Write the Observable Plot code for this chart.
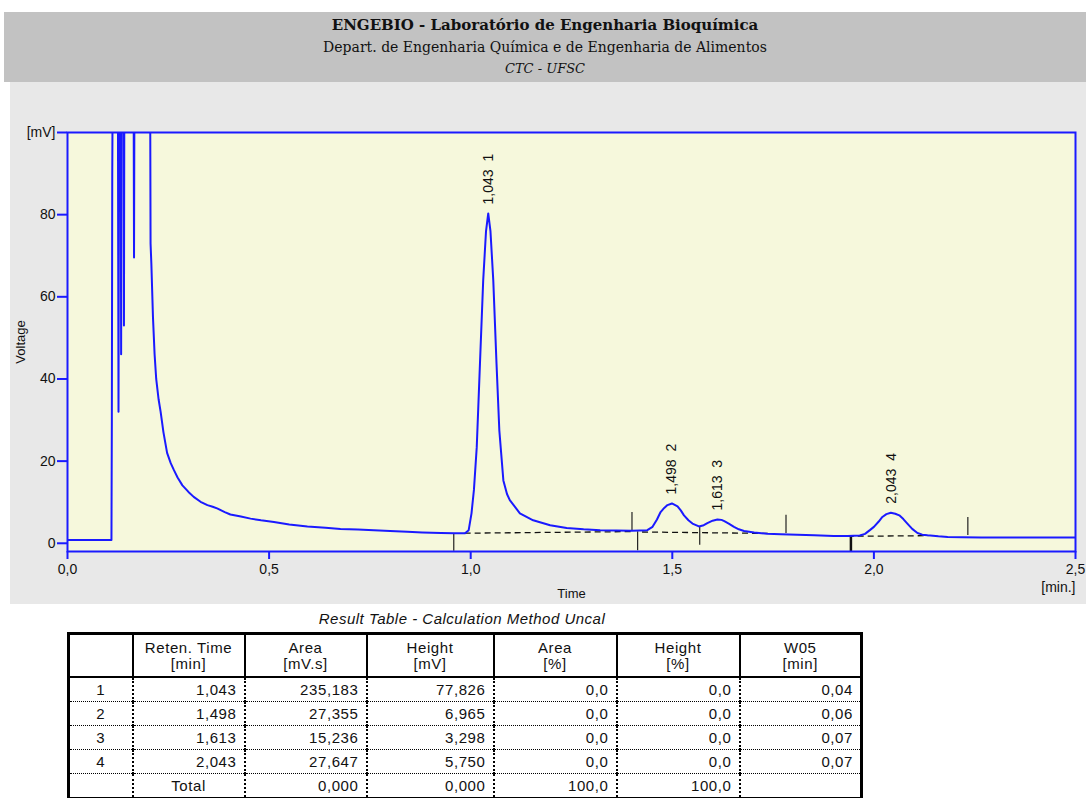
<!DOCTYPE html>
<html><head><meta charset="utf-8">
<script src="https://cdn.jsdelivr.net/npm/d3@7"></script>
<script src="https://cdn.jsdelivr.net/npm/@observablehq/plot@0.6"></script>
<style>
body{margin:0;width:1086px;height:798px;overflow:hidden;background:#fff;position:relative;font-family:"Liberation Sans",Arial,sans-serif;color:#111}
#hdr{position:absolute;left:4px;top:12px;width:1082px;height:70px;background:#c2c2c2;text-align:center;font-family:"DejaVu Serif",serif;color:#111;padding-top:2px;box-sizing:border-box}
#hdr div{line-height:22px;white-space:nowrap}
#h1{font-weight:bold;font-size:15px}
#h2{font-size:14px}
#h3{font-size:13px;font-style:italic}
#bg{position:absolute;left:10px;top:82px;width:1076px;height:522px;background:#e8e8e8}
#chart{position:absolute;left:0;top:82px}
#ttl{position:absolute;top:610px;left:0;width:924px;text-align:center;font-style:italic;font-size:15px;letter-spacing:0.5px;line-height:18px}
#tbl{position:absolute;left:67px;top:632px;border-collapse:collapse;border:3px solid #000;font-size:15px;table-layout:fixed;width:793px;letter-spacing:0.6px}
#tbl th{font-weight:normal;border:2px solid #000;height:41px;line-height:16px;padding:0;vertical-align:middle;text-align:center}
#tbl td{border-left:2px dotted #000;border-right:2px dotted #000;border-bottom:1px dotted #000;height:23px;line-height:16px;padding:0 7px 0 0;text-align:right}
#tbl td.c{text-align:center;padding:0}
</style></head>
<body>
<div id="hdr"><div id="h1"></div><div id="h2"></div><div id="h3"></div></div>
<div id="bg"></div>
<div id="chart"></div>
<div id="ttl"></div>
<table id="tbl"></table>
<script>
// ---- header texts
const headerLines = ["ENGEBIO - Laboratório de Engenharia Bioquímica", "Depart. de Engenharia Química e de Engenharia de Alimentos", "CTC - UFSC"];
const tableTitle = "Result Table - Calculation Method Uncal";

// ---- chromatogram trace (time in min, voltage in mV; >100 is off scale)
const traceT = [0,0.109,0.110,0.111,0.112,0.125,0.1265,0.128,0.132,0.133,0.134,0.139,0.140,0.141,0.164,0.165,0.166,0.205,
0.206,0.208,0.212,0.216,0.220,0.226,0.231,0.238,0.247,0.256,0.264,0.273,0.285,0.300,0.313,0.330,0.347,0.360,0.371,0.390,0.404,0.430,0.454,0.480,0.512,0.550,0.595,0.640,0.677,0.720,0.760,0.800,0.843,0.880,0.926,0.960,
0.986,0.995,1.002,1.008,1.015,1.023,1.031,1.038,1.0435,1.049,1.056,1.064,1.071,1.081,1.090,1.097,1.122,1.155,1.197,1.238,1.280,1.321,1.360,1.400,
1.438,1.451,1.462,1.471,1.480,1.488,1.499,1.513,1.521,1.529,1.540,1.550,1.566,1.578,1.587,1.600,1.612,1.622,1.629,1.640,1.653,1.665,1.678,1.703,1.735,1.769,1.810,1.852,1.900,1.935,
1.965,1.978,1.990,2.000,2.012,2.021,2.031,2.042,2.053,2.063,2.073,2.083,2.095,2.108,2.120,2.133,2.160,2.183,2.220,2.266,2.315,2.400,2.500];
const traceV = [0.8,0.8,30,90,110,110,32,110,110,46,110,110,53,110,110,69.6,110,110,
73,68,55,46,40,35,32,27,22,19.5,17.8,16,14.1,12.5,11.3,10.1,9.3,8.9,8.5,7.6,7.0,6.5,6.0,5.6,5.2,4.6,4.1,3.8,3.5,3.35,3.2,3.0,2.8,2.65,2.5,2.45,
2.45,3.2,7.3,13,23.4,43.8,64,76,80.3,76,64,43.8,27.5,15.3,12,10.5,7.3,5.6,4.4,3.7,3.4,3.2,3.1,3.05,
3.2,4.0,5.8,7.6,8.6,9.3,9.7,9.0,8.0,6.8,5.6,4.8,4.1,4.4,4.9,5.5,5.8,5.7,5.4,4.8,4.0,3.4,3.0,2.6,2.3,2.2,2.05,1.95,1.8,1.75,
1.9,2.3,3.2,4.0,5.3,6.4,7.1,7.45,7.2,6.8,5.9,4.8,3.5,2.5,2.1,1.95,1.7,1.55,1.45,1.4,1.4,1.4,1.4];

// ---- integration baselines (dashed)
const baseT1 = [0.985, 1.425, 1.935];
const baseV1 = [2.45, 2.75, 1.70];
const baseT2 = [1.400, 1.740, 2.135];
const baseV2 = [2.85, 2.40, 1.85];

// ---- peak start / end markers
const markT  = [0.958, 1.400, 1.414, 1.568, 1.782, 1.943, 2.233];
const markV1 = [2.4, 7.5, 2.8, 4.0, 6.8, 1.7, 6.3];
const markV2 = [-1.95, 3.0, -1.8, -0.5, 2.4, -2.1, 1.9];

// ---- axis ticks
const yTicks = [0, 20, 40, 60, 80, 100];
const xTicks = [0, 0.5, 1.0, 1.5, 2.0, 2.5];

// ---- result table
const peakNo = [1, 2, 3, 4];
const retTime = [1.043, 1.498, 1.613, 2.043];
const areaMVs = [235.183, 27.355, 15.236, 27.647];
const heightMV = [77.826, 6.965, 3.298, 5.750];
const areaPct = [0.0, 0.0, 0.0, 0.0];
const heightPct = [0.0, 0.0, 0.0, 0.0];
const w05 = [0.04, 0.06, 0.07, 0.07];
const totalArea = 0.000, totalHeight = 0.000, totalAreaPct = 100.0, totalHeightPct = 100.0;
const colHeads = [["Reten. Time","[min]"],["Area","[mV.s]"],["Height","[mV]"],["Area","[%]"],["Height","[%]"],["W05","[min]"]];

const fmt = (v, d) => v.toFixed(d).replace(".", ",");

document.getElementById("h1").textContent = headerLines[0];
document.getElementById("h2").textContent = headerLines[1];
document.getElementById("h3").textContent = headerLines[2];
document.getElementById("ttl").textContent = tableTitle;

const blue = "#1a1aff";
const trace = traceT.map((t, i) => ({t, v: traceV[i]}));
const baselines = baseT1.map((t, i) => ({t1: t, v1: baseV1[i], t2: baseT2[i], v2: baseV2[i]}));
const markers = markT.map((t, i) => ({t, v1: markV1[i], v2: markV2[i]}));
const peaks = retTime.map((rt, i) => {
  const near = trace.filter(p => Math.abs(p.t - rt) < 0.02);
  return {rt, n: peakNo[i], apex: d3.max(near, p => p.v)};
});

const chart = Plot.plot({
  width: 1086, height: 522, marginTop: 50, marginLeft: 67, marginRight: 11, marginBottom: 53,
  style: {background: "transparent", fontFamily: "'Liberation Sans', Arial, sans-serif", fontSize: "14px", color: "#111", overflow: "visible"},
  x: {domain: [0, 2.5]},
  y: {domain: [-2, 100]},
  marks: [
    Plot.frame({fill: "#f6f8dc"}),
    Plot.link(baselines, {x1: "t1", y1: "v1", x2: "t2", y2: "v2", stroke: "#111", strokeWidth: 1.3, strokeDasharray: "6,4"}),
    Plot.ruleX(markers, {x: "t", y1: "v1", y2: "v2", stroke: "#222", strokeWidth: 1.2}),
    Plot.ruleX(markers, {filter: (d, i) => i === 5, x: "t", y1: "v1", y2: "v2", stroke: "#111", strokeWidth: 2.5}),
    Plot.line(trace, {x: "t", y: "v", stroke: blue, strokeWidth: 2, clip: true}),
    Plot.text(peaks, {x: "rt", y: "apex", text: d => fmt(d.rt, 3) + "\u00a0\u00a0" + d.n, rotate: -90, textAnchor: "start", dy: -9, fontSize: 14, fill: "#111"}),
    Plot.frame({stroke: blue, strokeWidth: 2}),
    Plot.axisY({ticks: yTicks, tickSize: 10, tickPadding: 2, stroke: blue, strokeWidth: 2, fill: "#111", tickFormat: d => d === 100 ? "[mV]" : String(d), label: null}),
    Plot.axisX({ticks: xTicks, tickSize: 8, tickPadding: 5, stroke: blue, strokeWidth: 2, fill: "#111", tickFormat: d => fmt(d, 1), label: null}),
    Plot.text(["[min.]"], {x: 2.5, frameAnchor: "bottom", dy: 40, textAnchor: "end", fontSize: 14, fill: "#111"}),
    Plot.text(["Time"], {x: 1.25, frameAnchor: "bottom", dy: 46, fontSize: 13, fill: "#111"}),
    Plot.text(["Voltage"], {frameAnchor: "left", dx: -47, rotate: -90, textAnchor: "middle", fontSize: 13, fill: "#111"})
  ]
});
document.getElementById("chart").appendChild(chart);

// ---- table
const tbl = document.getElementById("tbl");
const colW = [64, 112, 122, 127, 123, 123, 122];
let html = "<colgroup>" + colW.map(w => `<col style="width:${w}px">`).join("") + "</colgroup>";
html += "<tr><th></th>" + colHeads.map(h => `<th>${h[0]}<br>${h[1]}</th>`).join("") + "</tr>";
peakNo.forEach((n, i) => {
  html += `<tr><td class="c">${n}</td><td>${fmt(retTime[i],3)}</td><td>${fmt(areaMVs[i],3)}</td><td>${fmt(heightMV[i],3)}</td><td>${fmt(areaPct[i],1)}</td><td>${fmt(heightPct[i],1)}</td><td>${fmt(w05[i],2)}</td></tr>`;
});
html += `<tr><td class="c"></td><td class="c">Total</td><td>${fmt(totalArea,3)}</td><td>${fmt(totalHeight,3)}</td><td>${fmt(totalAreaPct,1)}</td><td>${fmt(totalHeightPct,1)}</td><td></td></tr>`;
tbl.innerHTML = html;
</script>
</body></html>
